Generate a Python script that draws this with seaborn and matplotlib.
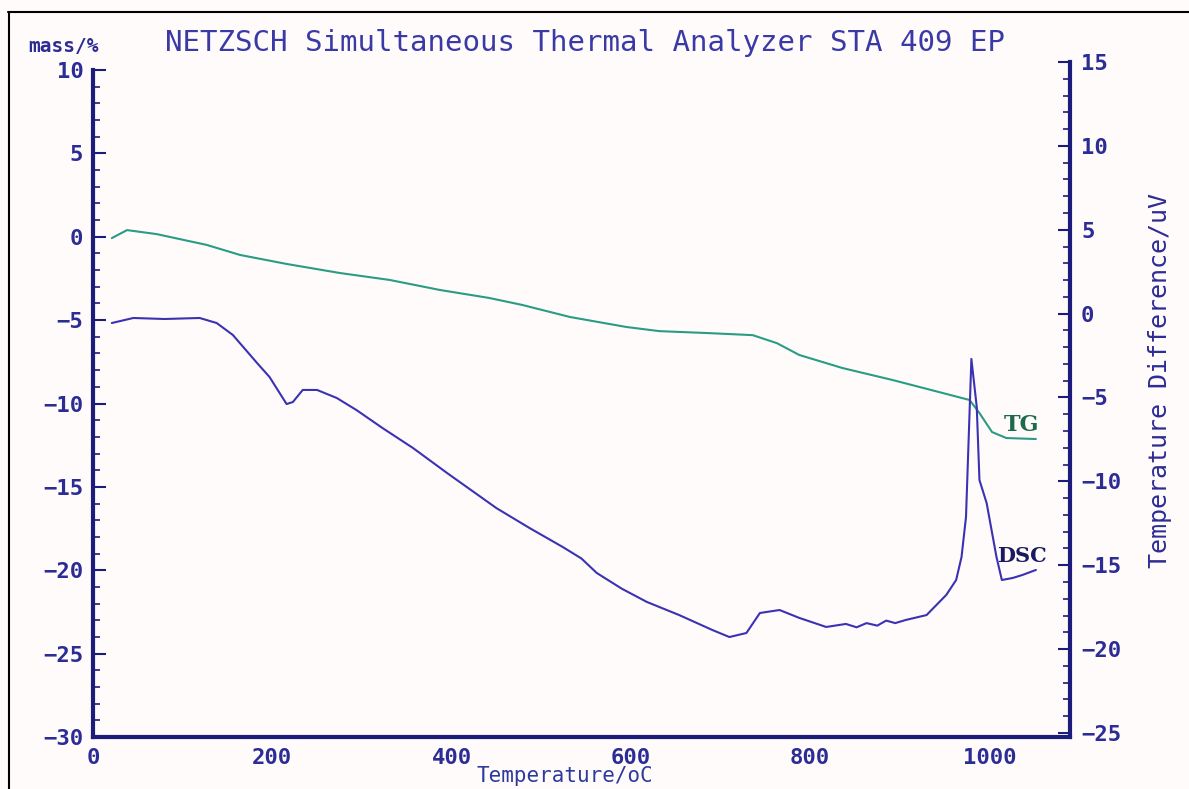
import pandas as pd
import matplotlib
matplotlib.use("Agg")
import matplotlib.pyplot as plt
import seaborn as sns
from matplotlib.ticker import MultipleLocator, FuncFormatter
from matplotlib.lines import Line2D

# --- Data ---
tg_temp = [21, 38, 71, 127, 164, 216, 275, 331, 387, 442, 479, 532, 595, 632,
           688, 736, 763, 788, 836, 892, 948, 978, 989, 1003, 1019, 1052]
tg_mass = [-0.08, 0.40, 0.16, -0.49, -1.09, -1.63, -2.17, -2.59, -3.19, -3.67,
           -4.09, -4.81, -5.41, -5.66, -5.78, -5.90, -6.38, -7.09, -7.87, -8.59,
           -9.37, -9.79, -10.57, -11.71, -12.07, -12.13]

dsc_temp = [21, 45, 80, 119, 138, 156, 183, 197, 216, 223, 234, 250, 272, 294,
            323, 357, 395, 420, 450, 487, 524, 545, 562, 590, 618, 654, 691, 710,
            729, 744, 751, 766, 788, 818, 840, 852, 863, 875, 885, 895, 907, 930,
            952, 963, 969, 974, 980, 986, 989, 997, 1008, 1014, 1026, 1037, 1052]
dsc_uv = [-0.56, -0.26, -0.32, -0.26, -0.56, -1.27, -2.94, -3.78, -5.39, -5.27,
          -4.55, -4.55, -5.03, -5.75, -6.82, -8.01, -9.50, -10.45, -11.59, -12.78,
          -13.91, -14.60, -15.46, -16.40, -17.19, -17.97, -18.86, -19.28, -19.04,
          -17.85, -17.79, -17.67, -18.14, -18.68, -18.50, -18.70, -18.45, -18.60,
          -18.30, -18.45, -18.26, -17.97, -16.77, -15.88, -14.51, -12.12, -2.70,
          -5.57, -9.92, -11.29, -14.51, -15.88, -15.76, -15.58, -15.28]

tg_df = pd.DataFrame({"T": tg_temp, "mass": tg_mass})
dsc_df = pd.DataFrame({"T": dsc_temp, "uV": dsc_uv})

# --- Style ---
sns.set_style("white")
plt.rcParams["font.family"] = ["DejaVu Sans Mono", "DejaVu Sans"]

navy = "#1c1c7a"
label_col = "#2c2c95"
tg_col = "#2a9c84"
dsc_col = "#3b32b3"

fig = plt.figure(figsize=(11.89, 7.89), dpi=100, facecolor="#fffbfb")
ax = fig.add_axes([0.0782, 0.0659, 0.8217, 0.8555])
ax.set_facecolor("none")
ax2 = ax.twinx()

sns.lineplot(data=tg_df, x="T", y="mass", ax=ax, color=tg_col, lw=1.5)
sns.lineplot(data=dsc_df, x="T", y="uV", ax=ax2, color=dsc_col, lw=1.5)

ax.set_xlim(0, 1090)
ax.set_ylim(-30, 10.48)
ax2.set_ylim(-25.24, 15)

for a in (ax, ax2):
    for s in a.spines.values():
        s.set_visible(False)
ax.spines["left"].set_visible(True)
ax.spines["bottom"].set_visible(True)
ax2.spines["right"].set_visible(True)
ax.spines["left"].set_bounds(-30, 10)
for s in (ax.spines["left"], ax.spines["bottom"], ax2.spines["right"]):
    s.set_color(navy)
    s.set_linewidth(3)

ax.xaxis.set_major_locator(MultipleLocator(100))
ax.xaxis.set_minor_locator(MultipleLocator(20))
ax.xaxis.set_major_formatter(FuncFormatter(lambda v, p: f"{int(v)}" if v % 200 == 0 else ""))
ax.set_yticks(range(-30, 11, 5))
ax.set_yticks(range(-30, 11, 1), minor=True)
ax2.yaxis.set_major_locator(MultipleLocator(5))
ax2.yaxis.set_minor_locator(MultipleLocator(1))

ax.tick_params(axis="both", which="major", direction="in", length=9, width=1.5,
               color=navy, labelcolor=label_col, labelsize=16)
ax.tick_params(axis="both", which="minor", direction="in", length=5, width=1.2, color=navy)
ax.tick_params(axis="x", pad=8)
ax.tick_params(axis="y", pad=7)
ax2.tick_params(axis="y", which="major", direction="in", length=9, width=1.5,
                color=navy, labelcolor=label_col, labelsize=16, pad=8)
ax2.tick_params(axis="y", which="minor", direction="in", length=5, width=1.2, color=navy)
for lab in ax.get_xticklabels() + ax.get_yticklabels() + ax2.get_yticklabels():
    lab.set_fontweight("bold")

ax.set_xlabel("")
ax.set_ylabel("")
ax2.set_ylabel("")

# --- Texts ---
fig.text(165 / 1189, 1 - 43 / 789, "NETZSCH Simultaneous Thermal Analyzer STA 409 EP",
         fontsize=21, color="#3a3aa6", va="center", ha="left")
fig.text(28 / 1189, 1 - 47 / 789, "mass/%", fontsize=14, color=label_col,
         va="center", ha="left", fontweight="bold")
fig.text(565 / 1189, 1 - 776 / 789, "Temperature/oC", fontsize=15, color="#2b3a9c",
         va="center", ha="center")
fig.text(1160 / 1189, 1 - 380 / 789, "Temperature Difference/uV", fontsize=18,
         color=label_col, va="center", ha="center", rotation=90)

ax.text(1036, -11.3, "TG", fontsize=16, color="#1e6a4e", family="DejaVu Serif",
        fontweight="bold", ha="center", va="center")
ax2.text(1036, -14.45, "DSC", fontsize=15, color="#1a1a5e", family="DejaVu Serif",
         fontweight="bold", ha="center", va="center")

# outer frame of the printout
fig.add_artist(Line2D([8 / 1189, 1.0], [1 - 12 / 789] * 2, color="black", lw=1.5))
fig.add_artist(Line2D([9 / 1189] * 2, [0.0, 1 - 12 / 789], color="black", lw=1.5))

fig.savefig("out.png", dpi=100, facecolor=fig.get_facecolor())
